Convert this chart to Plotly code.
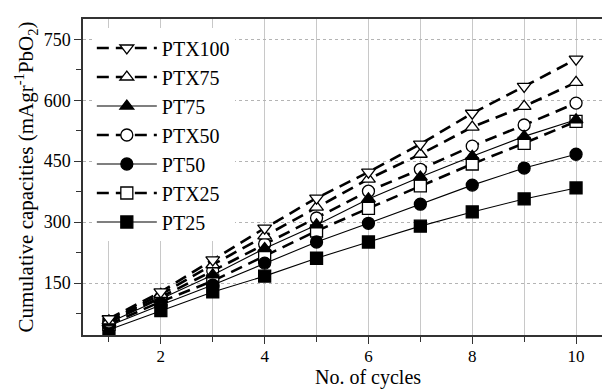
import plotly.graph_objects as go

cycles = [1, 2, 3, 4, 5, 6, 7, 8, 9, 10]

series_names = ["PTX100", "PTX75", "PT75", "PTX50", "PT50", "PTX25", "PT25"]

ptx100 = [62, 128, 207, 285, 359, 423, 492, 568, 634, 701]
ptx75 = [57, 122, 195, 266, 337, 406, 467, 534, 585, 644]
pt75 = [52, 110, 170, 235, 293, 357, 411, 462, 511, 552]
ptx50 = [54, 115, 180, 246, 310, 376, 430, 487, 539, 593]
pt50 = [45, 96, 145, 199, 251, 297, 344, 391, 433, 467]
ptx25 = [48, 104, 155, 216, 278, 334, 389, 443, 494, 548]
pt25 = [35, 82, 128, 167, 211, 251, 290, 325, 357, 384]

values = [ptx100, ptx75, pt75, ptx50, pt50, ptx25, pt25]

# symbol, fill, dashed line?
styles = {
    "PTX100": ("triangle-down", "white", True),
    "PTX75": ("triangle-up", "white", True),
    "PT75": ("triangle-up", "black", False),
    "PTX50": ("circle", "white", True),
    "PT50": ("circle", "black", False),
    "PTX25": ("square", "white", True),
    "PT25": ("square", "black", False),
}

FONT = "Liberation Serif, Times New Roman, serif"

fig = go.Figure()

# draw lowest series first so the upper ones sit on top
for name, ys in reversed(list(zip(series_names, values))):
    sym, fill, dashed = styles[name]
    fig.add_trace(go.Scatter(
        x=cycles, y=ys, name=name, mode="lines+markers",
        legendgroup=name, legendrank=series_names.index(name),
        line=dict(color="black", width=2.6 if dashed else 1.1,
                  dash="12px,7px" if dashed else "solid"),
        marker=dict(symbol=sym, size=12, color=fill,
                    line=dict(color="black", width=1.3)),
    ))

fig.update_layout(
    width=602, height=391,
    margin=dict(l=83, r=0, t=19, b=56),
    paper_bgcolor="white", plot_bgcolor="white",
    font=dict(family=FONT, size=18, color="black"),
    showlegend=True,
    legend=dict(x=0.017, y=0.97, xanchor="left", yanchor="top",
                bgcolor="white", borderwidth=0,
                font=dict(family=FONT, size=20),
                itemwidth=60, tracegroupgap=5,
                traceorder="normal"),
    annotations=[dict(
        text="No. of cycles", xref="paper", yref="paper",
        x=0.549, y=-0.177, xanchor="center", yanchor="bottom",
        showarrow=False, font=dict(family=FONT, size=20),
    )],
)

fig.update_xaxes(
    range=[0.5, 10.5], tick0=0, dtick=2,
    showline=True, linecolor="#333", linewidth=1.5, mirror=True,
    ticks="outside", ticklen=7, tickwidth=1.2, tickcolor="#333",
    ticklabelstandoff=-2,
    showgrid=True, gridcolor="#c8c8c8", gridwidth=1,
    minor=dict(dtick=1, tick0=0, ticks="outside", ticklen=5,
               tickcolor="#333", showgrid=True, gridcolor="#c8c8c8",
               gridwidth=1),
    zeroline=False,
    tickfont=dict(family=FONT, size=17),
)

fig.update_yaxes(
    range=[22, 800], tick0=0, dtick=150,
    showline=True, linecolor="#333", linewidth=1.5, mirror=False,
    ticks="outside", ticklen=7, tickwidth=1.2, tickcolor="#333",
    showgrid=True, gridcolor="#b4b4b4", gridwidth=1, griddash="dot",
    minor=dict(dtick=75, tick0=0, ticks="outside", ticklen=5,
               tickcolor="#333", showgrid=False),
    zeroline=False,
    tickfont=dict(family=FONT, size=18),
    title=dict(text="Cumulative capacities (mAgr<sup>-1</sup>PbO<sub>2</sub>)",
               font=dict(family=FONT, size=21), standoff=4),
)

fig.write_html("out.html")
